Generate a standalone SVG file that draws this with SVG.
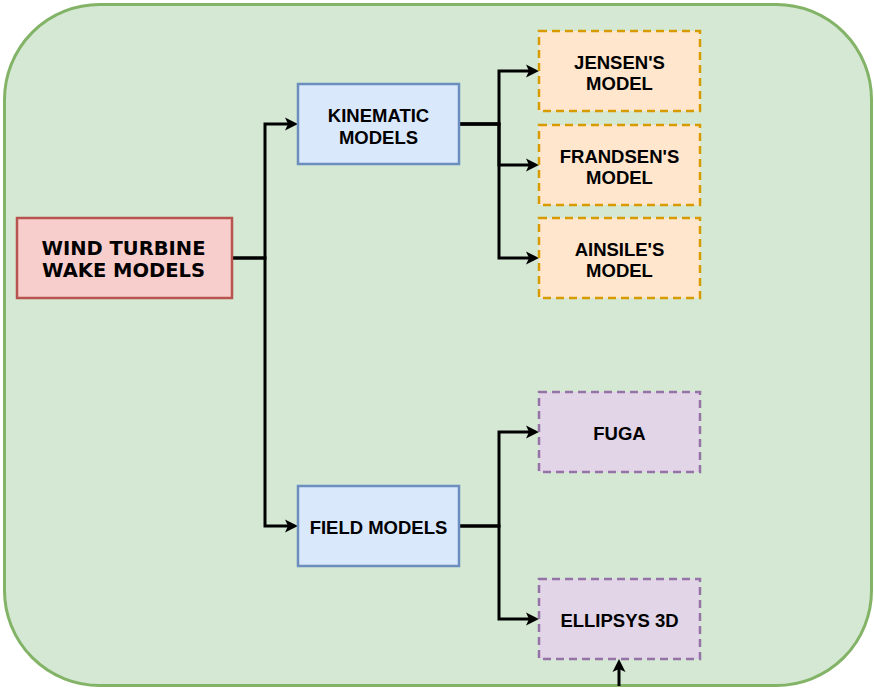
<svg xmlns="http://www.w3.org/2000/svg" width="874" height="690" viewBox="0 0 874 690">
  <defs>
    <marker id="arrow" markerUnits="userSpaceOnUse" viewBox="-4 -8 16 16" markerWidth="16" markerHeight="16" refX="0" refY="0" orient="auto">
      <path d="M10,0 L-3,-6.5 L0,0 L-3,6.5 Z" fill="#000"/>
    </marker>
  </defs>
  <style>
    .frame { fill: #d5e8d4; stroke: #82b366; stroke-width: 3; }
    .root { fill: #f8cecc; stroke: #b85450; stroke-width: 2.5; }
    .group { fill: #dae8fc; stroke: #6c8ebf; stroke-width: 2.5; }
    .kin { fill: #ffe6cc; stroke: #d79b00; stroke-width: 2.5; stroke-dasharray: 8 5; }
    .fld { fill: #e1d5e7; stroke: #9673a6; stroke-width: 2.5; stroke-dasharray: 8 5; }
    .edge { fill: none; stroke: #000; stroke-width: 3; marker-end: url(#arrow); }
    text { font-family: "Liberation Sans", Arial, sans-serif; font-weight: bold; font-size: 18.5px; fill: #000; text-anchor: middle; }
    .title { font-family: "DejaVu Sans", Verdana, sans-serif; font-size: 19.5px; }
  </style>

  <!-- background panel -->
  <rect class="frame" x="4.5" y="4.5" width="867" height="681" rx="95" ry="95"/>

  <!-- connectors -->
  <g id="connectors">
    <path class="edge" d="M232,258 H265 V124 H288"/>
    <path class="edge" d="M232,258 H265 V526 H288"/>
    <path class="edge" d="M459,124 H499 V71 H529"/>
    <path class="edge" d="M459,124 H499 V165 H529"/>
    <path class="edge" d="M459,124 H499 V258 H529"/>
    <path class="edge" d="M459,526 H499 V432 H529"/>
    <path class="edge" d="M459,526 H499 V619 H529"/>
    <path class="edge" d="M619,686 V669"/>
  </g>

  <!-- nodes -->
  <g id="wake-models">
    <rect class="root" x="17" y="218" width="215" height="80"/>
    <text class="title" x="123.5" y="255">WIND TURBINE</text>
    <text class="title" x="123.5" y="277">WAKE MODELS</text>
  </g>
  <g id="kinematic-models">
    <rect class="group" x="298" y="84" width="161" height="80"/>
    <text x="378.5" y="122">KINEMATIC</text>
    <text x="378.5" y="143.5">MODELS</text>
  </g>
  <g id="field-models">
    <rect class="group" x="298" y="486" width="161" height="80"/>
    <text x="378.5" y="534">FIELD MODELS</text>
  </g>
  <g id="jensen">
    <rect class="kin" x="539" y="31" width="161" height="80"/>
    <text x="619.5" y="68.5">JENSEN'S</text>
    <text x="619.5" y="90">MODEL</text>
  </g>
  <g id="frandsen">
    <rect class="kin" x="539" y="125" width="161" height="80"/>
    <text x="619.5" y="162.5">FRANDSEN'S</text>
    <text x="619.5" y="184">MODEL</text>
  </g>
  <g id="ainslie">
    <rect class="kin" x="539" y="218" width="161" height="80"/>
    <text x="619.5" y="255.5">AINSILE'S</text>
    <text x="619.5" y="277">MODEL</text>
  </g>
  <g id="fuga">
    <rect class="fld" x="539" y="392" width="161" height="80"/>
    <text x="619.5" y="440">FUGA</text>
  </g>
  <g id="ellipsys">
    <rect class="fld" x="539" y="579" width="161" height="80"/>
    <text x="619.5" y="627">ELLIPSYS 3D</text>
  </g>
</svg>
